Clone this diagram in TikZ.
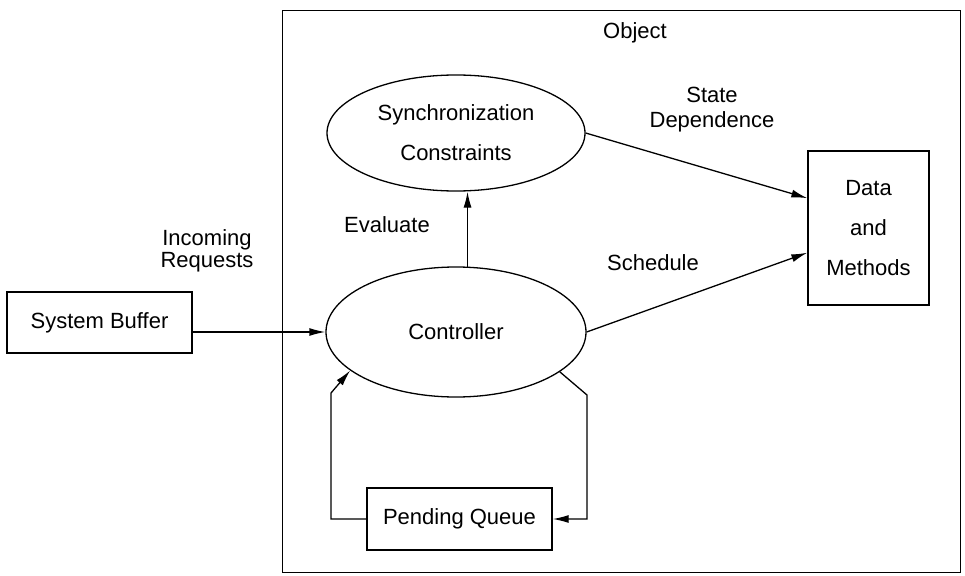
\documentclass[tikz,border=0pt]{standalone}
\usepackage{fontspec}
\setmainfont{Liberation Sans}
\usetikzlibrary{shapes.geometric,arrows.meta,calc}
\begin{document}
\begin{tikzpicture}[x=1pt,y=-1pt,
  line width=1.3pt,
  txt/.style={font=\fontsize{22}{24}\selectfont, inner sep=0pt, align=center},
  box/.style={draw, rectangle, inner sep=0pt, font=\fontsize{22}{24}\selectfont, align=center},
  ell/.style={draw, ellipse, inner sep=0pt, font=\fontsize{22}{24}\selectfont, align=center},
  arr/.style={-{Latex[length=16pt,width=8pt]}}]
\useasboundingbox (0,0) rectangle (965,575);
% object frame
\node[draw, rectangle, inner sep=0pt, minimum width=678pt, minimum height=562pt, anchor=north west] (obj) at (282,10) {};
\node[txt] (objlbl) at (635,33) {Object};
% nodes
\node[box, minimum width=185pt, minimum height=61pt] (sb) at (99.5,322.5) {System Buffer};
\node[ell, minimum width=260pt, minimum height=130pt] (ctrl) at (456,332) {Controller};
\node[ell, minimum width=258pt, minimum height=116pt] (sync) at (456,133) {Synchronization\\[16pt]Constraints};
\node[box, minimum width=121pt, minimum height=154pt] (dm) at (868.5,228) {Data\\[16pt]and\\[16pt]Methods};
\node[box, minimum width=185pt, minimum height=62pt] (pq) at (459.5,519) {Pending Queue};
% labels
\node[txt, font=\fontsize{22}{22}\selectfont] (inc) at (207,251) {Incoming\\Requests};
\node[txt] (eval) at (387,225) {Evaluate};
\node[txt, font=\fontsize{22}{25}\selectfont] (state) at (712,110) {State\\Dependence};
\node[txt] (sched) at (653,263) {Schedule};
% connectors
\draw[arr] (sb.east |- ctrl.west) -- (ctrl.west);
\draw[arr] (ctrl.80) -- (ctrl.80 |- sync.south);
\draw[arr] (sync.east) -- (dm.154);
\draw[arr] (ctrl.east) -- (dm.202);
\coordinate (l1) at (331,393);
\coordinate (r1) at (587,395);
\draw[arr] (pq.west) -| (l1) -- (ctrl.200);
\draw[arr] (ctrl.-21) -- (r1) |- (pq.east);
\end{tikzpicture}
\end{document}
